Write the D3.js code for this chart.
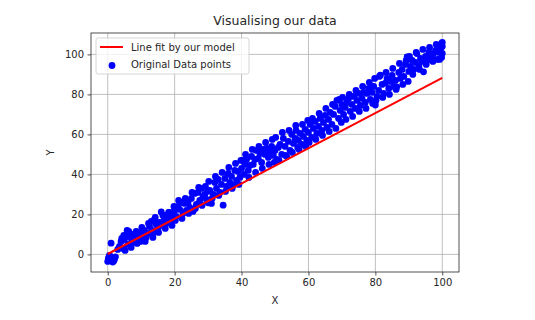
<!DOCTYPE html>
<html>
<head>
<meta charset="utf-8">
<script src="https://cdn.jsdelivr.net/npm/d3@7"></script>
<style>
	body { margin: 0; background: #fff; }
	text { font-family: "DejaVu Sans", sans-serif; fill: #262626; }
</style>
</head>
<body>
<div id="main"></div>
<script>
var titleText = "Visualising our data";
var xLabel = "X";
var yLabel = "Y";
var xTicks = [0, 20, 40, 60, 80, 100];
var yTicks = [0, 20, 40, 60, 80, 100];
var legendLabels = ["Line fit by our model", "Original Data points"];

// fitted line end points
var lineX = [0, 100];
var lineY = [0.2, 88.3];

// data points
var pointsX = [0, 0.3, 0.5, 0.8, 1.2, 1.5, 2, 2.3, 1, 0.2, 1.8,
	3.5, 4, 4.2, 4.5, 5, 5.2, 5.5, 6, 6.3, 6.8, 7, 7.5, 8, 8.3, 8.8, 9, 9.5, 10,
	10.5, 11, 11.5, 12, 12.5, 13, 13.3, 13.8, 14, 14.5, 15, 15.5, 16, 16.3, 16.8, 17, 17.5, 18, 18.5, 19, 19.5, 20,
	20.5, 21, 21.5, 22, 22.5, 23, 23.5, 24, 24.5, 25, 25.5, 26, 26.5, 27, 27.5, 28, 28.5, 29, 29.5, 30,
	30.5, 31, 31.5, 32, 32.5, 33, 33.5, 34, 34.5, 35, 35.5, 36, 36.5, 37, 37.5, 38, 38.5, 39, 39.5, 40,
	40.3, 40.8, 41, 41.5, 42, 42.5, 43, 43.5, 44, 44.5, 45, 45.5, 46, 46.5, 47, 47.5, 48, 48.5, 49, 49.5, 50,
	50.5, 51, 51.5, 52, 52.5, 53, 53.5, 54, 54.5, 55, 55.5, 56, 56.3, 56.8, 57, 57.5, 58, 58.5, 59, 59.5, 60,
	60.5, 61, 61.5, 62, 62.5, 63, 63.5, 64, 64.5, 65, 65.5, 66, 66.5, 67, 67.5, 68, 68.5, 69, 69.5, 70,
	70.5, 71, 71.5, 72, 72.5, 73, 73.5, 74, 74.5, 75, 75.5, 76, 76.5, 77, 77.5, 78, 78.5, 79, 79.5, 80,
	80.5, 81, 81.5, 82, 82.5, 83, 83.5, 84, 84.5, 85, 85.5, 86, 86.4, 87, 87.5, 88, 88.5, 89, 89.5, 90,
	90.5, 91, 91.5, 92, 92.4, 93, 93.5, 94, 94.4, 95, 95.5, 96, 96.5, 97, 97.4, 98, 98.5, 99, 99.5, 100, 100, 100, 99.8,
	0.5, 1.5, 3, 4.8, 5.8, 7.2, 8.5, 9.8,
	10.2, 11.2, 12.2, 13.5, 14.2, 15.2, 16.5, 17.2, 18.2, 19.2, 19.8,
	20.2, 21.2, 22.2, 23.2, 24.2, 25.2, 26.2, 27.2, 28.2, 29.2, 29.8,
	30.2, 31.2, 32.2, 33.2, 34.2, 35.2, 36.2, 37.2, 38.2, 39.2, 39.8,
	41.2, 42.2, 43.2, 44.2, 45.2, 46.2, 47.2, 48.2, 49.2, 49.8,
	50.2, 51.2, 52.2, 53.2, 54.2, 55.2, 56.2, 57.2, 58.2, 59.2, 59.8,
	60.2, 61.2, 62.2, 63.2, 64.2, 65.2, 66.2, 67.2, 68.2, 69.2, 69.8,
	70.2, 71.2, 72.2, 73.2, 74.2, 75.2, 76.2, 77.2, 78.2, 79.2, 79.8,
	80.2, 81.2, 82.2, 83.2, 84.2, 85.2, 86.2, 87.2, 88.2, 89.2, 89.8,
	90.2, 91.2, 92.2, 93.2, 94.2, 95.2, 96.2, 97.2, 98.2, 99.2, 99.8];
var pointsY = [-3.5, -1.5, -2.8, -1, -3, -2, -2.5, -1.2, 5.6, -2.2, -3.3,
	4, 6.5, 8, 3, 7.5, 2, 9, 5, 11.5, 8.5, 3.5, 10, 6, 9, 5.5, 10.5, 8, 10.8,
	9, 12, 8.5, 10.5, 14, 16.5, 12, 11, 17.5, 15, 13, 16, 21.2, 14.5, 17, 19.5, 15.5, 18, 21, 17.5, 20, 22,
	19, 24, 22.5, 26, 20.5, 25.5, 22, 26, 23.5, 28, 21.5, 30.5, 25, 31, 27, 33, 29, 30, 27.5, 25.8,
	32, 25.5, 30, 36, 33, 37.5, 31, 35, 24.6, 38, 34, 40.5, 36, 39, 34.5, 42, 37, 41.5, 38.5, 43,
	47, 40, 45, 47.5, 42, 44.5, 49, 45, 47.5, 52, 48, 50.5, 46, 52.5, 50, 53, 48.5, 51.5, 54, 49.5, 52,
	47.5, 53.5, 55, 50, 58, 54, 49, 56.5, 52, 60, 55.5, 58, 62, 53.5, 57, 60.5, 55, 59, 62.5, 57, 61,
	65, 58.5, 63, 66.5, 60.5, 64, 68, 62, 66, 69.5, 63.5, 67.5, 71, 65, 70, 74, 77, 68, 72, 75,
	70, 73.5, 76, 78, 71.5, 75, 79, 73, 77, 80.5, 74.5, 78, 81, 76, 80.5, 83, 77.5, 81, 84, 74.7,
	79, 82, 89.6, 85, 80.5, 85.6, 88, 83, 86.5, 89.5, 84, 87, 83.8, 91, 88, 92.5, 89, 95, 98.8, 91.5,
	94, 97, 92.5, 96, 100.4, 94.5, 98, 96.5, 91.3, 99, 97, 101, 98, 99.5, 100.4, 102, 97.5, 101, 103, 106, 104, 100.5, 98.5,
	-0.5, -3.8, 2.5, 9.5, 12, 6.5, 11.5, 6.5,
	13.5, 6.5, 15.5, 8.5, 18.5, 11, 19.5, 13, 21, 14.5, 24,
	17, 27, 18, 28, 20.5, 31, 23, 33.5, 24.5, 34, 31.5,
	36.5, 28, 39, 29.5, 41, 31.5, 43.5, 33, 45.5, 35, 47,
	50, 38.5, 52.5, 41, 54, 43, 56, 45, 57.5, 46,
	58.5, 47, 61, 49.5, 62, 51, 64.5, 52.5, 65, 54, 67,
	56, 68, 57.5, 70.5, 59.5, 73, 61.5, 75, 63, 77.5, 66,
	78.5, 67.5, 80, 69, 82, 71.5, 84, 73, 86, 75.5, 88,
	77, 89, 78.5, 91, 80, 93, 82.5, 95.5, 85, 97, 86.5,
	99, 90, 101, 92.5, 102.5, 95, 103.5, 96.5, 105, 97.5, 105.5];

var width = 535, height = 320;
var margin = { left: 91, right: 76, top: 33, bottom: 48 };

var svg = d3.select("#main").append("svg")
	.attr("width", width)
	.attr("height", height);

var x = d3.scaleLinear()
	.domain([-5, 105])
	.range([margin.left, width - margin.right]);

var y = d3.scaleLinear()
	.domain([-8.8, 110.7])
	.range([height - margin.bottom, margin.top]);

// grid
svg.append("g")
	.selectAll("line.gx")
	.data(xTicks)
	.enter().append("line")
	.attr("x1", function(d) { return x(d); })
	.attr("x2", function(d) { return x(d); })
	.attr("y1", margin.top)
	.attr("y2", height - margin.bottom)
	.attr("stroke", "#b0b0b0")
	.attr("stroke-width", 0.8);

svg.append("g")
	.selectAll("line.gy")
	.data(yTicks)
	.enter().append("line")
	.attr("x1", margin.left)
	.attr("x2", width - margin.right)
	.attr("y1", function(d) { return y(d); })
	.attr("y2", function(d) { return y(d); })
	.attr("stroke", "#b0b0b0")
	.attr("stroke-width", 0.8);

// points
var pts = pointsX.map(function(d, i) { return [d, pointsY[i]]; });

svg.append("g")
	.selectAll("circle")
	.data(pts)
	.enter().append("circle")
	.attr("cx", function(d) { return x(d[0]); })
	.attr("cy", function(d) { return y(d[1]); })
	.attr("r", 3.4)
	.attr("fill", "#0000ff");

// fitted line
var line = d3.line()
	.x(function(d) { return x(d[0]); })
	.y(function(d) { return y(d[1]); });

svg.append("path")
	.datum(lineX.map(function(d, i) { return [d, lineY[i]]; }))
	.attr("fill", "none")
	.attr("stroke", "#ff0000")
	.attr("stroke-width", 2)
	.attr("d", line);

// axes
var xAxis = d3.axisBottom(x).tickValues(xTicks).tickSize(3.5).tickPadding(3.5);
var yAxis = d3.axisLeft(y).tickValues(yTicks).tickSize(3.5).tickPadding(3.5);

var gx = svg.append("g")
	.attr("transform", "translate(0," + (height - margin.bottom) + ")")
	.call(xAxis);
var gy = svg.append("g")
	.attr("transform", "translate(" + margin.left + ",0)")
	.call(yAxis);

[gx, gy].forEach(function(g) {
	g.select(".domain").remove();
	g.selectAll(".tick line").attr("stroke", "#262626").attr("stroke-width", 0.8);
	g.selectAll(".tick text").attr("font-size", "10px").style("fill", "#262626")
		.attr("font-family", "DejaVu Sans, sans-serif");
});

// frame
svg.append("rect")
	.attr("x", margin.left)
	.attr("y", margin.top)
	.attr("width", width - margin.left - margin.right)
	.attr("height", height - margin.top - margin.bottom)
	.attr("fill", "none")
	.attr("stroke", "#262626")
	.attr("stroke-width", 0.8);

// title and labels
svg.append("text")
	.attr("x", (margin.left + width - margin.right) / 2)
	.attr("y", 25)
	.attr("text-anchor", "middle")
	.attr("font-size", "12.5px")
	.text(titleText);

svg.append("text")
	.attr("x", (margin.left + width - margin.right) / 2)
	.attr("y", 304)
	.attr("text-anchor", "middle")
	.attr("font-size", "10px")
	.text(xLabel);

svg.append("text")
	.attr("transform", "translate(54," + ((margin.top + height - margin.bottom) / 2) + ") rotate(-90)")
	.attr("text-anchor", "middle")
	.attr("font-size", "10px")
	.text(yLabel);

// legend
var lg = svg.append("g").attr("transform", "translate(96,38)");

lg.append("rect")
	.attr("width", 153)
	.attr("height", 36)
	.attr("rx", 2)
	.attr("fill", "#fff")
	.attr("fill-opacity", 0.8)
	.attr("stroke", "#cccccc")
	.attr("stroke-width", 0.8);

lg.append("line")
	.attr("x1", 4).attr("x2", 27)
	.attr("y1", 9).attr("y2", 9)
	.attr("stroke", "#ff0000")
	.attr("stroke-width", 2);

lg.append("circle")
	.attr("cx", 16)
	.attr("cy", 27.5)
	.attr("r", 3.4)
	.attr("fill", "#0000ff");

lg.selectAll("text.lab")
	.data(legendLabels)
	.enter().append("text")
	.attr("x", 35)
	.attr("y", function(d, i) { return 13 + i * 17; })
	.attr("font-size", "10px")
	.text(function(d) { return d; });
</script>
</body>
</html>
